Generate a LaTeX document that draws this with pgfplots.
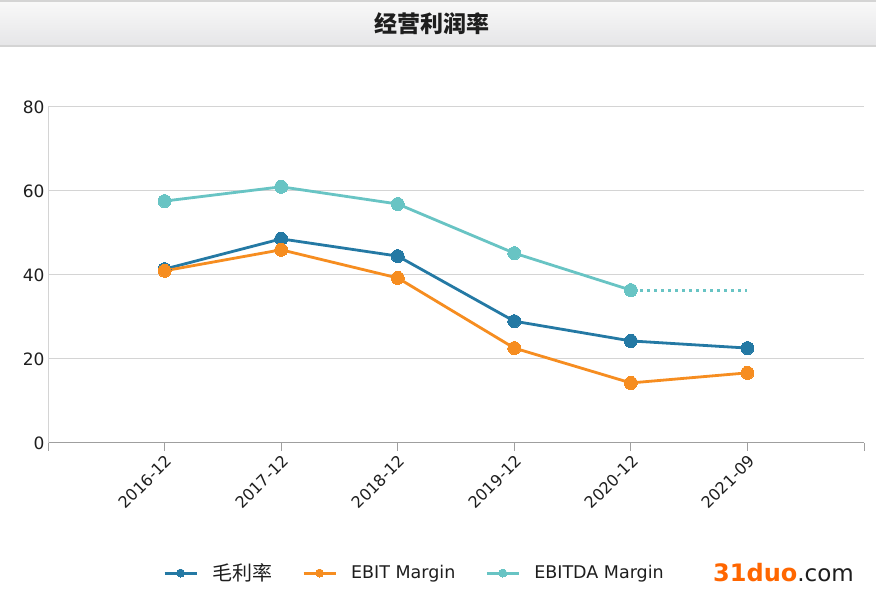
\documentclass[border=0pt]{standalone}
\usepackage{fontspec}
\setmainfont{DejaVu Sans}
\newfontfamily\cjk{Noto Sans CJK SC}
\usepackage{pgfplots}
\pgfplotsset{compat=1.18}

\definecolor{gross}{RGB}{36,121,164}
\definecolor{ebit}{RGB}{246,141,32}
\definecolor{ebitda}{RGB}{104,196,196}
\definecolor{gridc}{RGB}{212,212,212}
\definecolor{txt}{RGB}{30,30,30}
\definecolor{wm}{RGB}{255,102,0}

\begin{document}
\begin{tikzpicture}[x=1pt,y=1pt]
  % page frame and title bar
  \fill[white] (0,0) rectangle (876,596);
  \shade[top color={rgb,255:red,248;green,248;blue,248}, bottom color={rgb,255:red,230;green,230;blue,232}]
    (0,551) rectangle (876,594);
  \fill[gridc] (0,594) rectangle (876,596);
  \fill[gridc] (0,549) rectangle (876,551);
  \node[font=\cjk\bfseries\fontsize{23}{26}\selectfont, text=txt] at (432,572) {经营利润率};

  \begin{axis}[
    at={(48pt,153pt)}, anchor=south west,
    scale only axis, width=816pt, height=336pt,
    xmin=0, xmax=7, ymin=0, ymax=80,
    xtick={0,...,7},
    xticklabels={,2016-12,2017-12,2018-12,2019-12,2020-12,2021-09,},
    ytick={0,20,...,80},
    ymajorgrids, grid style={gridc, line width=1pt},
    axis x line*=bottom, axis y line*=left,
    x axis line style={-, draw=gray!75, line width=1pt},
    y axis line style={-, draw=gridc, line width=1pt},
    xtick align=outside, major tick length=8pt,
    xtick style={draw=gray!75, line width=1pt},
    ytick style={draw=none},
    /pgf/number format/assume math mode=true,
    tick label style={text=txt},
    x tick label style={rotate=45, anchor=north east, font=\fontsize{16}{18}\selectfont, inner sep=2pt},
    y tick label style={font=\fontsize{17}{19}\selectfont},
    legend columns=-1,
    legend style={at={(0.449,-0.387)}, anchor=center, draw=none, fill=none,
      font=\fontsize{17.5}{19}\selectfont, text=txt,
      /tikz/every even column/.append style={column sep=28pt}},
    legend image code/.code={\draw[#1, line width=3pt, mark size=4pt, mark repeat=2, mark phase=2]
      plot coordinates {(0pt,0pt) (16pt,0pt) (32pt,0pt)};},
    every axis plot/.append style={line width=2.8pt, mark=*, mark size=6.5pt},
    clip=false,
  ]
    \addplot[gross, mark options={fill=gross, line width=0pt}] coordinates {
      (1,41.4) (2,48.6) (3,44.5) (4,29.0) (5,24.3) (6,22.6)};
    \addlegendentry{\hspace{12pt}\cjk\fontsize{20}{22}\selectfont 毛利率}
    \addplot[ebit, mark options={fill=ebit, line width=0pt}] coordinates {
      (1,41.0) (2,46.0) (3,39.3) (4,22.6) (5,14.3) (6,16.7)};
    \addlegendentry{\hspace{12pt}EBIT Margin}
    \addplot[ebitda, mark options={fill=ebitda, line width=0pt}] coordinates {
      (1,57.6) (2,61.0) (3,56.9) (4,45.2) (5,36.4)};
    \addlegendentry{\hspace{12pt}EBITDA Margin}
    \addplot[ebitda, mark=none, line width=3pt, dash pattern=on 3pt off 4pt, forget plot] coordinates {
      (5.08,36.4) (6,36.4)};
  \end{axis}

  \node[anchor=west, inner sep=0, font=\bfseries\fontsize{24}{26}\selectfont] at (713,23)
    {\textcolor{wm}{31duo}\textcolor{txt}{\mdseries\fontsize{23}{26}\selectfont .com}};
\end{tikzpicture}
\end{document}
